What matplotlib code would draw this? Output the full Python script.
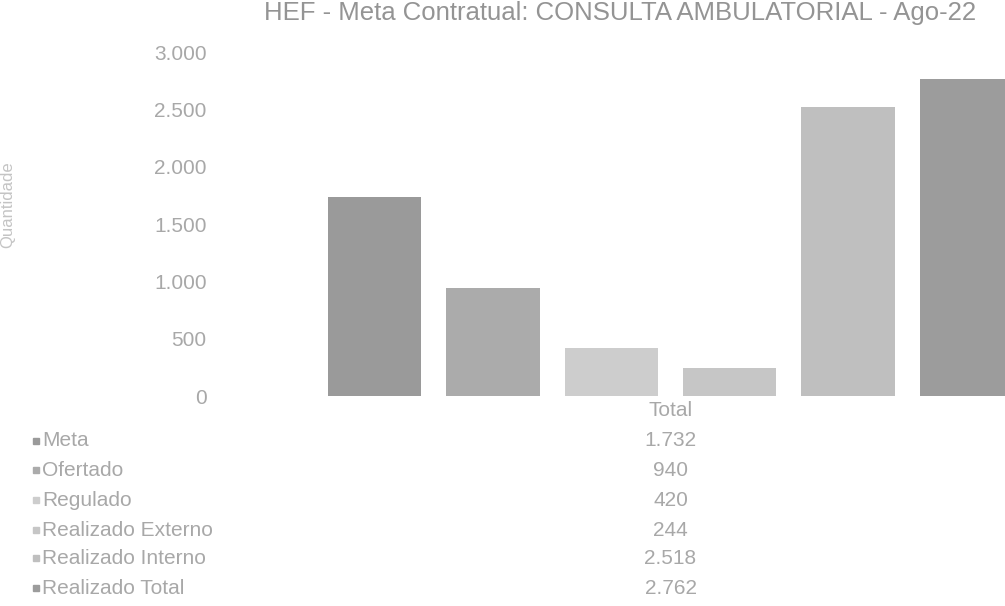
import numpy as np
import matplotlib
matplotlib.use("Agg")
import matplotlib.pyplot as plt
from matplotlib.transforms import blended_transform_factory

series = ["Meta", "Ofertado", "Regulado", "Realizado Externo",
          "Realizado Interno", "Realizado Total"]
valores = [1732, 940, 420, 244, 2518, 2762]
cores = ["#9a9a9a", "#ababab", "#cdcdcd", "#c6c6c6", "#bfbfbf", "#9c9c9c"]
categoria = "Total"
yticks = [0, 500, 1000, 1500, 2000, 2500, 3000]

titulo = "HEF - Meta Contratual: CONSULTA AMBULATORIAL - Ago-22"
cor_texto = "#a8a8a8"

plt.rcParams['font.family'] = ['Liberation Sans', 'DejaVu Sans']

W, H = 1005, 606
fig = plt.figure(figsize=(W / 100, H / 100), dpi=100)

# área do gráfico (a direita fica cortada como no original)
x_left, x_right = 215, 1126
y_bot, y_top = 396, 52
ax = fig.add_axes([x_left / W, 1 - y_bot / H, (x_right - x_left) / W, (y_bot - y_top) / H])

x = np.arange(len(valores))
ax.bar(x, valores, width=0.79, color=cores, edgecolor="none")
ax.set_xlim(-1.346, 6.346)
ax.set_ylim(0, 3000)
ax.set_yticks(yticks)
ax.set_yticklabels([f"{v:,}".replace(",", ".") for v in yticks])
ax.tick_params(axis="y", length=0, pad=6, labelsize=15, labelcolor=cor_texto)
ax.set_xticks([])
for s in ax.spines.values():
    s.set_visible(False)

fig.text(8 / W, 1 - 205 / H, "Quantidade", rotation=90, ha="center", va="center",
         fontsize=12, color="#c4c4c4")

fig.text(620 / W, 1 - 13 / H, titulo, ha="center", va="center",
         fontsize=18.5, color="#949494")

# tabela de dados abaixo do gráfico
tr = blended_transform_factory(ax.transData, fig.transFigure)
centro = (len(valores) - 1) / 2
ax.text(centro, 1 - 411 / H, categoria, transform=tr, ha="center", va="center",
        fontsize=15, color=cor_texto, clip_on=False)

linhas_y = [441, 470, 500, 530, 558, 588]
for nome, v, c, yy in zip(series, valores, cores, linhas_y):
    yf = 1 - yy / H
    fig.patches.append(plt.Rectangle((33 / W, yf - 3 / H), 6 / W, 6 / H,
                                     transform=fig.transFigure, color=c))
    fig.text(42 / W, yf, nome, ha="left", va="center", fontsize=15, color=cor_texto)
    ax.text(centro, yf, f"{v:,}".replace(",", "."), transform=tr, ha="center",
            va="center", fontsize=15, color=cor_texto, clip_on=False)

fig.savefig("out.png", dpi=100)
